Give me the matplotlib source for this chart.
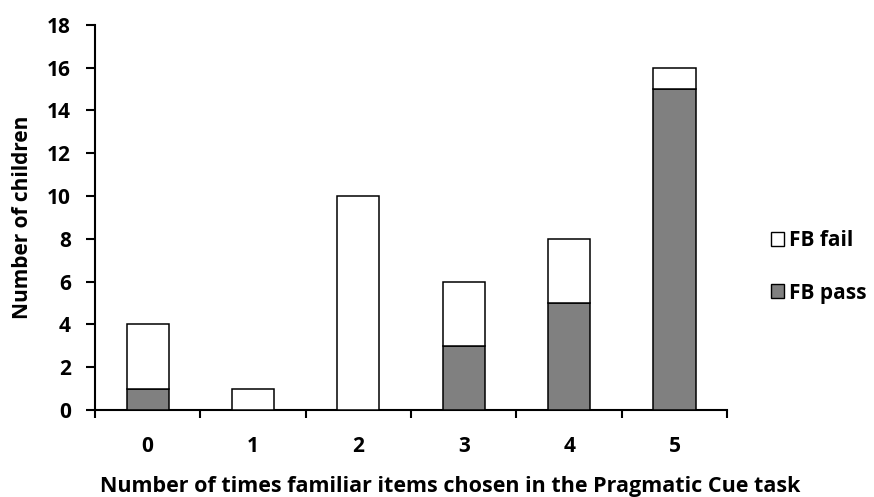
import matplotlib
matplotlib.use("Agg")
from matplotlib import pyplot as plt
from matplotlib.patches import Patch
import numpy as np

plt.rcParams['font.family'] = ['Open Sans', 'DejaVu Sans']
plt.rcParams['font.weight'] = 'bold'

categories = ['0', '1', '2', '3', '4', '5']
fb_pass = [1, 0, 0, 3, 5, 15]
fb_fail = [3, 1, 10, 3, 3, 1]

fig = plt.figure(figsize=(8.74, 4.97), dpi=100)
ax = fig.add_axes([0.1087, 0.175, 0.7233, 0.775])

x = np.arange(len(categories))
w = 0.4
ax.bar(x, fb_pass, w, color='#808080', edgecolor='black', linewidth=1.1, label='FB pass', zorder=3)
ax.bar(x, fb_fail, w, bottom=fb_pass, color='white', edgecolor='black', linewidth=1.1, label='FB fail', zorder=3)

ax.set_xlim(-0.5, 5.5)
ax.set_ylim(0, 18)
ax.set_yticks(np.arange(0, 19, 2))
ax.set_xticks(x)
ax.set_xticklabels(categories)
ax.set_xticks(np.arange(-0.5, 6, 1), minor=True)
ax.tick_params(axis='x', which='major', length=0, pad=19, labelsize=15)
ax.tick_params(axis='x', which='minor', length=6, width=1.5, direction='out')
ax.tick_params(axis='y', length=6.5, width=1.5, direction='out', labelsize=15, pad=11)

for s in ['top', 'right']:
    ax.spines[s].set_visible(False)
for s in ['left', 'bottom']:
    ax.spines[s].set_linewidth(1.5)

ax.set_xlabel('Number of times familiar items chosen in the Pragmatic Cue task',
              fontsize=15.5, fontweight='bold')
ax.xaxis.set_label_coords(0.5617, -0.171)
ax.set_ylabel('Number of children', fontsize=15, fontweight='bold')
ax.yaxis.set_label_coords(-0.098, 0.5)

handles = [Patch(facecolor='white', edgecolor='black', label='FB fail'),
           Patch(facecolor='#808080', edgecolor='black', label='FB pass')]
fig.legend(handles=handles, loc='center left', bbox_to_anchor=(0.882, 0.463),
           frameon=False, fontsize=15, handlelength=0.62, handleheight=0.62,
           handletextpad=0.25, labelspacing=1.5, borderpad=0, borderaxespad=0)

fig.savefig('out.png', dpi=100)
